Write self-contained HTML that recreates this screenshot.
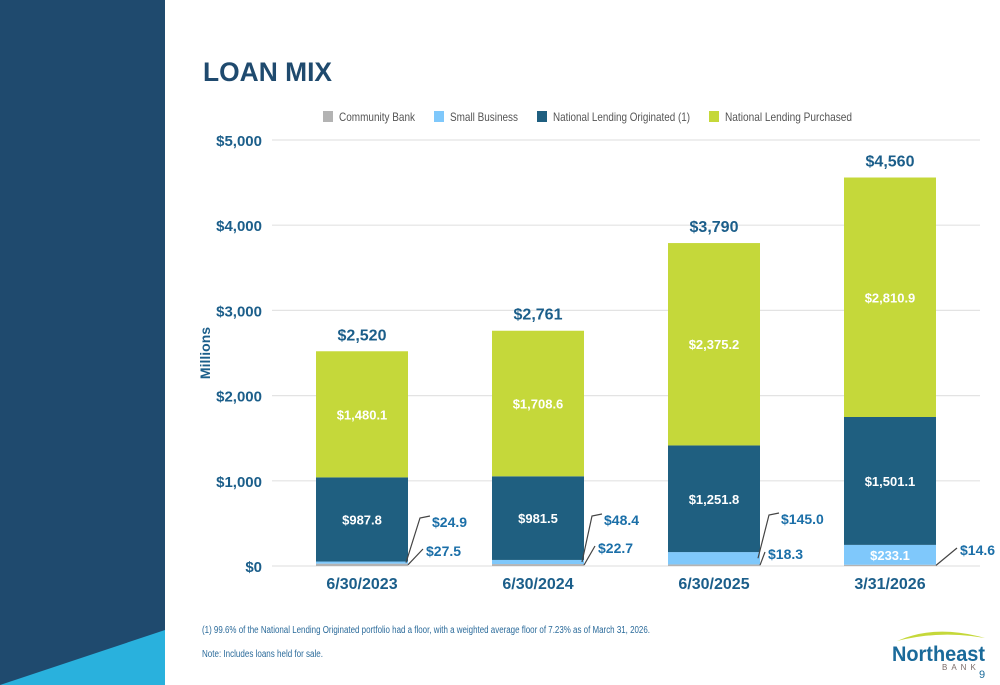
<!DOCTYPE html>
<html><head><meta charset="utf-8"><style>
html,body{margin:0;padding:0;width:1000px;height:685px;overflow:hidden;background:#fff;font-family:"Liberation Sans",sans-serif}
svg{display:block}
text{font-family:"Liberation Sans",sans-serif}
</style></head><body>
<svg id="chart" width="1000" height="685" viewBox="0 0 1000 685">
<rect x="0" y="0" width="165" height="685" fill="#1f4a6e"/>
<polygon points="0,685 165,630 165,685" fill="#29b1dd"/>
<text x="203" y="81" font-size="27" font-weight="bold" fill="#1f4a6e" textLength="129" lengthAdjust="spacingAndGlyphs">LOAN MIX</text>
<g id="legend"></g>
<g id="grid"></g><g id="bars"></g><g id="labels"></g>
<text transform="translate(210,353) rotate(-90)" text-anchor="middle" font-size="14" font-weight="bold" fill="#1b5e8a">Millions</text>
<text x="202" y="633" font-size="10" fill="#2a6a9a" textLength="448" lengthAdjust="spacingAndGlyphs">(1) 99.6% of the National Lending Originated portfolio had a floor, with a weighted average floor of 7.23% as of March 31, 2026.</text>
<text x="202" y="657" font-size="10" fill="#2a6a9a" textLength="121" lengthAdjust="spacingAndGlyphs">Note: Includes loans held for sale.</text>
<g>
<path d="M897 641 Q935 624 985 638 Q940 630 897 641Z" fill="#c5d83a"/>
<text x="892" y="661" font-size="21" font-weight="bold" fill="#1a6a9a" textLength="93" lengthAdjust="spacingAndGlyphs">Northeast</text>
<text x="942" y="670" font-size="8" fill="#7a6a66" letter-spacing="4">BANK</text>
</g>
<text x="979" y="678" font-size="11" fill="#1a6a9a">9</text>
</svg>
<script>
const categories=["6/30/2023","6/30/2024","6/30/2025","3/31/2026"];
const communityBank=[27.5,22.7,18.3,14.6];
const smallBusiness=[24.9,48.4,145.0,233.1];
const nlOriginated=[987.8,981.5,1251.8,1501.1];
const nlPurchased=[1480.1,1708.6,2375.2,2810.9];
const totals=["$2,520","$2,761","$3,790","$4,560"];
const yTicks=[0,1000,2000,3000,4000,5000];
const yTickLabels=["$0","$1,000","$2,000","$3,000","$4,000","$5,000"];
const seriesNames=["Community Bank","Small Business","National Lending Originated (1)","National Lending Purchased"];

const NS="http://www.w3.org/2000/svg";
const colors=["#b3b3b3","#7fc8fb","#1f5f80","#c5d83a"];
const y0=566,yTop=140,yMax=5000;
const y=v=>y0-(v/yMax)*(y0-yTop);
const x=i=>316+i*176;
const bw=92;
function mk(tag,attrs,parent){const e=document.createElementNS(NS,tag);for(const k in attrs)e.setAttribute(k,attrs[k]);parent.appendChild(e);return e;}
const fmt=v=>"$"+v.toLocaleString("en-US",{minimumFractionDigits:1,maximumFractionDigits:1});
const grid=document.getElementById("grid"),bars=document.getElementById("bars"),labels=document.getElementById("labels"),legend=document.getElementById("legend");

yTicks.forEach((t,i)=>{
  const l=mk("line",{x1:272,x2:980,y1:y(t),y2:y(t),stroke:"#e3e3e3","stroke-width":1.2},grid);
  
  
  const tx=mk("text",{x:262,y:y(t)+6,"text-anchor":"end","font-size":15,"font-weight":"bold",fill:"#1b5e8a"},grid);
  tx.textContent=yTickLabels[i];
  
  
});
const lx=[323,434,537,709];
const lw=[76,68,137,127];
seriesNames.forEach((n,i)=>{
  const r=mk("rect",{x:lx[i],y:111,width:10,height:11,fill:colors[i]},legend);
  
  
  const t=mk("text",{x:lx[i]+16,y:121,"font-size":12,fill:"#555",textLength:lw[i],lengthAdjust:"spacingAndGlyphs"},legend);
  t.textContent=n;
  
  
});
const sbLab=[[432,527],[604,525],[781,524],null];
const cbLab=[[426,556],[598,553],[768,559],[960,555]];
categories.forEach((c,i)=>{
  const series=[communityBank[i],smallBusiness[i],nlOriginated[i],nlPurchased[i]];
  let acc=0;const tops=[];
  series.forEach((v,s)=>{
    const yb=y(acc),yt=y(acc+v);acc+=v;tops.push([yt,yb]);
    const r=mk("rect",{x:x(i),y:yt,width:bw,height:yb-yt,fill:colors[s]},bars);
    
    
  });
  const cx=x(i)+bw/2;
  [[2,nlOriginated[i]],[3,nlPurchased[i]]].forEach(([s,v])=>{
    const t=mk("text",{x:cx,y:(tops[s][0]+tops[s][1])/2+5,"text-anchor":"middle","font-size":13,"font-weight":"bold",fill:"#fff"},labels);
    t.textContent=fmt(v);
    
    
  });
  const tt=mk("text",{x:cx,y:y(acc)-11,"text-anchor":"middle","font-size":16,"font-weight":"bold",fill:"#1b5e8a"},labels);
  tt.textContent=totals[i];
  
  
  if(sbLab[i]){
    const [lxp,lyp]=sbLab[i];
    const py=(tops[1][0]+tops[1][1])/2;
    const p=mk("polyline",{points:`${x(i)+bw-2},${py} ${lxp-12},${lyp-9} ${lxp-2},${lyp-11}`,fill:"none",stroke:"#444","stroke-width":1.2},labels);
    
    
    const t=mk("text",{x:lxp,y:lyp,"font-size":14,"font-weight":"bold",fill:"#1b6fa8"},labels);
    t.textContent=fmt(smallBusiness[i]);
    
    
  } else {
    const t=mk("text",{x:cx,y:(tops[1][0]+tops[1][1])/2+5,"text-anchor":"middle","font-size":13,"font-weight":"bold",fill:"#fff"},labels);
    t.textContent=fmt(smallBusiness[i]);
    
    
  }
  const [cxl,cyl]=cbLab[i];
  const py2=(tops[0][0]+tops[0][1])/2;
  const p2=mk("polyline",{points:`${x(i)+bw},${py2} ${cxl-3},${cyl-7}`,fill:"none",stroke:"#444","stroke-width":1.2},labels);
  
  
  const t2=mk("text",{x:cxl,y:cyl,"font-size":14,"font-weight":"bold",fill:"#1b6fa8"},labels);
  t2.textContent=fmt(communityBank[i]);
  
  
  const xl=mk("text",{x:cx,y:589,"text-anchor":"middle","font-size":16,"font-weight":"bold",fill:"#1b5e8a"},labels);
  xl.textContent=c;
  
  
});
</script>
</body></html>
